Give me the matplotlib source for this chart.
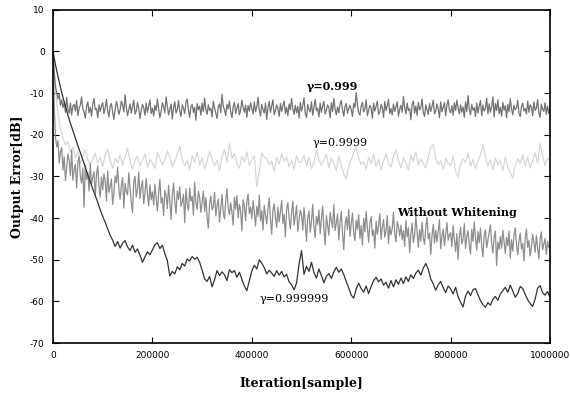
import numpy as np
import matplotlib.pyplot as plt

plt.rcParams['axes.unicode_minus'] = False

# 出力誤差 [dB]
# γ=0.999 と Without Whitening は 2500サンプルごと、他は 5000サンプルごと
g999 = [0, -5.0, -8.5, -9.8, -11.4, -10.2, -12.9, -11.6, -13.5, -12.2, -14.6, -11.0, -13.9, -14.8, -12.4, -15.2, -13.1, -12.7, -14.3, -11.8,
        -15.4, -13.6, -12.9, -10.9, -13.8, -14.5, -16.0, -13.2, -12.1, -14.7, -13.4, -15.5, -12.6, -11.3, -14.0, -13.7, -15.9, -12.8, -14.4, -13.0,
        -12.3, -14.9, -13.6, -11.5, -14.2, -15.7, -13.0, -12.5, -14.6, -16.3, -13.8, -12.0, -13.3, -15.1, -14.0, -11.9, -12.8, -14.5, -10.4, -13.4,
        -15.4, -13.9, -12.6, -14.8, -13.2, -11.7, -15.0, -14.3, -12.2, -13.7, -16.1, -14.1, -12.7, -13.5, -15.3, -12.4, -14.6, -13.1, -11.6, -14.9,
        -13.6, -15.5, -12.9, -14.2, -11.4, -13.8, -15.9, -14.4, -12.3, -13.3, -14.7, -10.9, -13.0, -15.2, -14.0, -12.6, -16.2, -13.5, -12.1, -14.8,
        -13.9, -11.8, -14.4, -15.6, -12.8, -13.6, -14.9, -12.2, -11.4, -14.1, -15.8, -13.2, -12.7, -14.6, -13.4, -16.5, -12.5, -14.0, -13.1, -15.3,
        -12.4, -14.4, -11.2, -13.9, -15.1, -12.8, -14.2, -13.6, -15.7, -12.0, -13.5, -14.8, -16.1, -13.2, -12.6, -14.7, -10.3, -13.1, -14.0, -15.4,
        -12.7, -13.8, -11.9, -14.5, -15.9, -13.3, -12.2, -14.9, -13.6, -12.5, -15.2, -14.1, -11.7, -13.4, -14.6, -12.9, -15.8, -13.0, -14.3, -12.3,
        -13.6, -15.0, -12.1, -14.5, -13.3, -11.0, -14.1, -15.5, -12.7, -13.9, -14.8, -12.4, -16.3, -13.5, -12.0, -14.6, -13.1, -11.6, -15.2, -14.2,
        -12.8, -13.7, -15.6, -12.5, -14.4, -13.0, -11.9, -14.9, -13.4, -15.4, -12.6, -14.0, -11.3, -13.8, -15.1, -12.9, -14.7, -13.2, -16.0, -12.2,
        -14.3, -13.0, -11.1, -14.9, -15.8, -12.7, -13.9, -14.5, -12.1, -15.3, -13.4, -11.5, -14.2, -13.6, -15.7, -12.4, -14.6, -13.1, -12.0, -15.0,
        -14.1, -12.8, -13.5, -15.9, -12.3, -14.4, -11.3, -13.8, -15.2, -13.3, -14.7, -12.6, -11.8, -14.0, -15.5, -13.2, -12.5, -14.8, -13.7, -12.9,
        -14.0, -15.6, -12.5, -13.4, -9.9, -12.8, -14.7, -15.3, -13.1, -12.2, -14.5, -13.8, -11.6, -15.4, -14.1, -12.9, -13.6, -16.0, -12.4, -14.3,
        -13.2, -11.9, -15.1, -14.6, -12.7, -13.5, -15.8, -12.0, -14.2, -13.0, -11.5, -14.9, -13.7, -15.2, -12.6, -14.4, -13.3, -12.1, -15.5, -13.9,
        -12.9, -14.6, -10.8, -13.5, -15.0, -12.4, -14.2, -13.7, -16.4, -12.7, -11.9, -14.8, -13.1, -15.3, -12.2, -14.0, -13.6, -11.4, -14.7, -15.6,
        -12.8, -13.9, -15.1, -12.5, -14.4, -13.2, -11.7, -15.0, -14.3, -12.6, -13.8, -15.9, -12.1, -14.5, -13.4, -12.3, -15.4, -13.0, -11.6, -14.1,
        -14.7, -13.0, -15.3, -12.3, -14.2, -11.7, -13.6, -15.0, -12.8, -14.6, -13.3, -15.8, -12.1, -14.4, -10.6, -13.9, -15.2, -12.7, -14.1, -13.5,
        -15.6, -12.4, -14.8, -13.1, -11.8, -15.4, -12.9, -14.3, -13.7, -11.2, -15.0, -12.6, -14.6, -13.3, -10.9, -15.7, -12.5, -14.2, -11.6, -14.9,
        -13.4, -15.5, -12.2, -14.1, -13.0, -15.9, -12.7, -14.5, -11.3, -13.8, -15.2, -12.9, -14.0, -13.5, -11.7, -14.8, -15.6, -13.2, -12.4, -14.3,
        -13.7, -15.0, -11.9, -14.6, -12.8, -13.3, -15.4, -12.1, -14.2, -13.6, -11.5, -14.7, -15.8, -12.6, -13.9, -14.4, -12.3, -15.1, -13.1, -14.9,
        -13.8]

g9999 = [0, -9.5, -15.0, -18.5, -20.8, -22.4, -21.6, -24.2, -23.0, -25.5, -24.1, -26.8, -25.2, -23.6, -26.0, -27.4, -25.8, -24.4, -26.9, -25.3,
         -27.6, -24.8, -23.5, -26.2, -28.0, -25.6, -26.7, -24.9, -27.3, -25.1, -23.2, -26.4, -28.3, -26.0, -25.2, -27.5, -26.1, -24.6, -27.8, -25.9,
         -26.8, -28.1, -24.3, -25.7, -27.2, -26.0, -23.9, -25.4, -27.7, -26.3, -24.7, -22.8, -25.9, -27.4, -26.2, -28.4, -25.0, -26.6, -24.2, -27.1,
         -25.5, -28.2, -26.4, -24.0, -25.8, -27.5, -26.1, -28.6, -25.3, -23.4, -26.7, -22.0, -25.6, -24.5, -26.9, -28.0, -25.2, -26.5, -24.1, -27.3,
         -26.0, -25.1, -32.5, -28.8, -24.4, -25.4, -25.7, -27.2, -26.3, -28.8, -25.5, -27.0, -24.6, -26.4, -25.3, -27.7, -26.1, -28.2, -25.0, -26.6,
         -26.4, -24.9, -27.6, -25.3, -28.1, -26.7, -23.8, -25.9, -27.3, -26.0, -24.6, -27.9, -25.7, -26.8, -28.6, -25.1, -27.2, -29.4, -30.6, -27.5,
         -26.0, -24.3, -22.9, -25.6, -27.1, -26.5, -28.2, -25.4, -26.9, -24.7, -27.6, -25.9, -28.4, -26.3, -24.5, -26.8, -27.7, -25.2, -23.6, -26.1,
         -27.9, -25.5, -26.7, -28.5, -25.0, -26.4, -24.1, -27.3, -25.8, -26.9, -28.0, -25.3, -23.0, -22.3, -25.7, -27.1, -26.2, -28.3, -25.6, -26.8,
         -27.4, -25.1, -28.7, -30.2, -27.0, -25.8, -26.6, -24.4, -27.5, -25.9, -28.1, -26.3, -24.9, -22.4, -25.2, -27.6, -26.0, -28.4, -25.5, -27.2,
         -26.1, -28.6, -25.3, -27.8, -29.1, -30.4, -27.3, -25.7, -26.9, -24.8, -27.5, -25.4, -28.0, -26.2, -24.3, -26.8, -22.1, -25.0, -27.4, -25.6,
         -26.3]

no_whitening = [0, -13.5, -20.6, -22.9, -21.4, -26.8, -24.0, -23.1, -28.5, -25.3, -31.0, -27.7, -24.6, -26.2, -29.8, -23.7, -30.9, -28.4, -27.1, -32.8,
                -26.5, -25.2, -29.9, -31.6, -28.0, -37.4, -27.3, -30.7, -29.0, -33.5, -26.9, -31.8, -30.2, -28.8, -34.7, -29.6, -27.4, -32.3, -35.0, -30.1,
                -33.2, -29.4, -31.1, -35.9, -28.7, -33.8, -32.4, -30.6, -36.7, -34.1, -29.9, -31.5, -27.8, -33.0, -35.5, -32.2, -30.3, -37.6, -31.7, -33.6,
                -34.4, -29.1, -32.9, -36.2, -38.7, -31.2, -30.0, -34.9, -33.1, -28.9, -35.3, -32.6, -31.0, -36.6, -33.9, -30.5, -34.2, -37.1, -32.0, -35.6,
                -33.7, -36.8, -31.9, -35.2, -38.3, -34.0, -30.7, -36.4, -35.1, -39.4, -33.3, -34.6, -37.7, -32.1, -35.8, -40.3, -34.4, -31.6, -36.0, -38.9,
                -33.5, -35.5, -32.5, -37.2, -36.1, -34.3, -41.1, -33.0, -36.7, -38.1, -32.8, -35.9, -34.8, -39.3, -31.4, -36.3, -37.9, -33.6, -35.0, -38.6,
                -36.2, -33.5, -38.4, -35.1, -39.8, -42.4, -36.5, -34.7, -38.0, -37.3, -33.8, -39.5, -36.9, -35.4, -41.0, -37.7, -34.3, -38.8, -40.2, -35.9,
                -32.9, -37.5, -39.1, -36.3, -38.6, -41.7, -35.0, -37.9, -34.6, -39.9, -36.7, -38.3, -43.1, -35.6, -37.1, -40.6, -36.0, -34.2, -38.9, -37.4,
                -40.1, -35.8, -38.6, -41.9, -37.2, -39.6, -34.5, -40.7, -38.2, -42.8, -36.9, -39.3, -41.4, -37.7, -35.2, -40.4, -43.9, -38.0, -36.6, -39.9,
                -42.2, -37.4, -40.9, -38.5, -35.7, -41.3, -39.1, -44.5, -37.9, -36.3, -40.0, -42.6, -38.8, -35.9, -41.7, -39.5, -37.0, -43.2, -40.5, -38.1,
                -39.2, -42.9, -37.5, -41.0, -45.6, -39.9, -38.3, -43.4, -40.8, -36.7, -42.1, -44.7, -39.6, -41.5, -38.0, -43.8, -40.2, -37.1, -42.5, -46.4,
                -39.4, -41.8, -44.1, -38.6, -40.6, -42.3, -36.8, -43.0, -41.2, -39.0, -45.3, -40.9, -38.4, -43.7, -47.6, -41.6, -39.7, -42.8, -37.9, -44.4,
                -41.3, -38.8, -43.6, -45.4, -40.5, -42.7, -39.2, -44.9, -41.8, -46.5, -40.1, -43.3, -38.4, -42.4, -45.8, -41.1, -39.6, -44.2, -42.9, -47.2,
                -40.7, -43.9, -41.6, -38.9, -45.1, -42.2, -40.3, -44.6, -43.1, -39.4, -46.1, -41.9, -44.0, -42.5, -38.6, -43.7, -45.7, -40.8, -42.0, -44.3,
                -41.7, -45.2, -43.0, -46.8, -40.6, -44.5, -42.3, -48.3, -43.8, -41.2, -45.9, -44.1, -39.5, -43.4, -47.0, -42.8, -45.5, -41.0, -44.7, -46.3,
                -42.1, -39.8, -45.0, -43.6, -48.7, -44.2, -41.5, -46.0, -42.9, -45.7, -43.1, -40.4, -47.4, -44.4, -42.6, -46.6, -43.9, -41.1, -45.3, -44.0,
                -43.5, -46.9, -41.8, -45.1, -48.0, -43.7, -49.9, -44.6, -42.2, -46.2, -45.0, -41.3, -47.3, -44.3, -43.0, -46.5, -48.6, -42.7, -45.6, -40.9,
                -44.8, -47.7, -43.2, -45.9, -42.4, -46.7, -49.3, -44.1, -42.8, -47.1, -45.3, -43.4, -41.6, -46.0, -48.4, -44.5, -43.1, -51.4, -45.7, -47.5,
                -44.4, -47.2, -42.9, -45.8, -48.5, -44.6, -46.6, -43.1, -49.6, -45.2, -47.9, -44.0, -42.3, -46.4, -48.8, -45.5, -43.6, -47.4, -46.1, -50.3,
                -44.7, -42.6, -47.0, -45.4, -49.1, -46.8, -43.9, -45.9, -48.2, -44.2, -46.9, -49.8, -45.0, -43.3, -47.6, -46.3, -44.9, -48.7, -45.6, -47.1,
                -46.4]

g999999 = [0, -3.2, -6.0, -8.6, -11.0, -13.2, -15.3, -17.2, -19.0, -20.8, -22.6, -24.3, -26.0, -27.8, -29.6, -31.3, -33.0, -34.6, -36.2, -38.0,
           -39.6, -41.0, -42.6, -44.1, -45.3, -46.8, -45.6, -47.2, -46.0, -45.4, -46.9, -47.8, -46.5, -48.2, -47.4, -48.9, -50.6, -49.3, -48.1, -48.8,
           -47.6, -46.4, -45.9, -47.3, -46.5, -48.5, -50.2, -53.9, -52.8, -53.4, -51.7, -52.4, -50.9, -51.5, -49.8, -50.3, -49.2, -49.9, -49.4, -50.6,
           -52.5, -54.6, -55.2, -54.0, -56.5, -54.8, -52.6, -53.8, -52.9, -53.6, -55.0, -52.4, -53.1, -52.6, -54.2, -53.0, -54.7, -56.3, -57.4, -55.1,
           -52.7, -51.3, -52.2, -50.0, -50.8, -51.9, -53.4, -52.5, -53.2, -54.0, -52.6, -53.7, -52.8, -54.1, -53.5, -55.3, -56.0, -57.2, -55.6, -51.0,
           -47.8, -53.5, -51.6, -52.8, -50.6, -53.1, -54.4, -52.2, -53.8, -55.5, -54.0, -53.3, -54.5, -52.9, -51.8, -53.0, -52.2, -53.6, -55.2, -56.8,
           -58.5, -59.2, -57.0, -55.6, -56.9, -57.8, -56.3, -58.1, -56.4, -55.0, -54.2, -55.3, -54.6, -56.1, -55.4, -56.8, -55.0, -56.5, -54.8, -55.9,
           -54.4, -55.7, -54.1, -55.2, -53.6, -54.5, -53.2, -52.5, -53.7, -52.0, -50.9, -52.3, -54.6, -55.8, -57.3, -56.0, -55.2, -56.7, -57.9, -56.3,
           -57.0, -58.2, -56.6, -58.9, -60.2, -61.3, -58.7, -57.5, -58.6, -57.2, -56.9, -58.4, -59.8, -60.8, -61.4, -60.3, -60.9, -59.5, -58.8, -59.7,
           -58.2, -57.4, -56.6, -57.8, -56.1, -57.5, -59.0, -58.1, -56.4, -56.9, -58.3, -59.6, -60.5, -61.2, -59.4, -56.8, -56.2, -57.9, -58.5, -57.6,
           -59.1]

plt.figure(figsize=(5.7, 3.93), dpi=100)
ax = plt.axes([0.093, 0.127, 0.872, 0.848])

# 各系列は 0〜1000000 サンプルを等間隔に
for vals, col in [(g9999, '#d6d6d6'), (no_whitening, '#8e8e8e'), (g999, '#737373'), (g999999, '#333333')]:
    ax.plot(np.linspace(0, 1000000, len(vals)), vals, color=col, lw=0.9)

serif = 'DejaVu Serif'
ax.text(563000, -8.5, 'γ=0.999', fontsize=8, fontweight='bold', family=serif, ha='center', va='center')
ax.text(577000, -21.9, 'γ=0.9999', fontsize=8, family=serif, ha='center', va='center')
ax.text(813000, -38.7, 'Without Whitening', fontsize=8, fontweight='bold', family=serif, ha='center', va='center')
ax.text(485000, -59.5, 'γ=0.999999', fontsize=8, family=serif, ha='center', va='center')

ax.set_xlim(0, 1000000)
ax.set_ylim(-70, 10)
ax.set_xticks([0, 200000, 400000, 600000, 800000, 1000000])
ax.set_xticklabels(['0', '200000', '400000', '600000', '800000', '1000000'])
ax.set_yticks(range(-70, 11, 10))
ax.tick_params(direction='in', top=True, right=True, length=4, labelsize=6.5, pad=6)
for s in ax.spines.values():
    s.set_linewidth(1.2)

ax.set_xlabel('Iteration[sample]', fontsize=9, fontweight='bold', family=serif, labelpad=12)
ax.set_ylabel('Output Error[dB]', fontsize=9, fontweight='bold', family=serif, labelpad=4)

plt.savefig('out.png')
